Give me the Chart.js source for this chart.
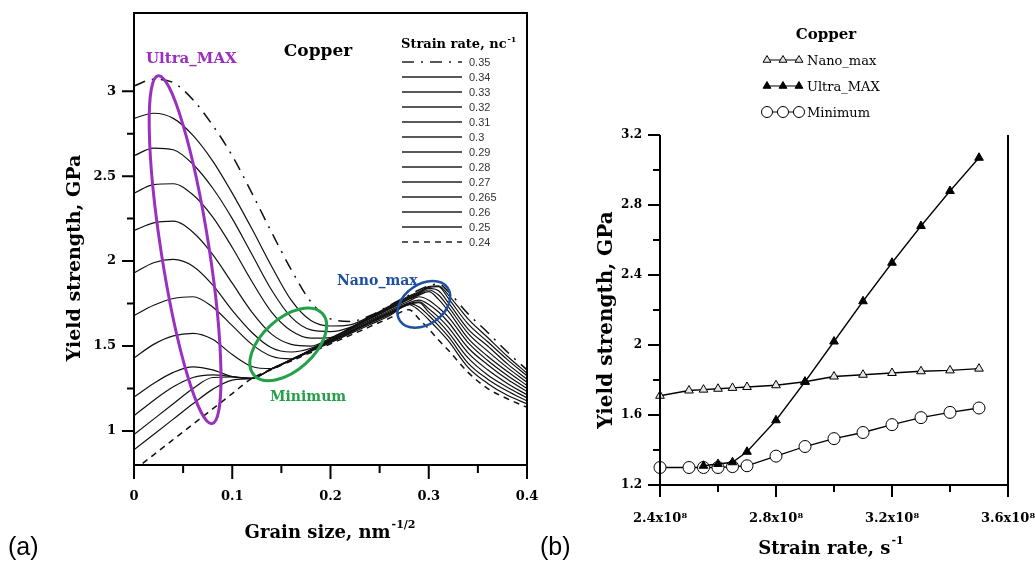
<!DOCTYPE html>
<html>
<head>
<meta charset="utf-8">
<script src="https://cdn.jsdelivr.net/npm/chart.js@4.4.0/dist/chart.umd.min.js"></script>
<style>
html, body { margin: 0; padding: 0; background: #fff; }
#wrap { position: relative; width: 1035px; height: 565px; overflow: hidden; }
#ca { position: absolute; left: 0; top: 0; }
#cb { position: absolute; left: 535px; top: 0; }
</style>
</head>
<body>
<div id="wrap">
  <canvas id="ca" width="540" height="565"></canvas>
  <canvas id="cb" width="500" height="565"></canvas>
</div>
<script>
// ---- panel (a): yield strength vs grain size, one curve per strain rate ----
const grainSize = [0, 0.02, 0.04, 0.06, 0.08, 0.10, 0.12, 0.14, 0.16, 0.18, 0.20, 0.22, 0.24, 0.26, 0.28, 0.29, 0.30, 0.31, 0.32, 0.34, 0.36, 0.38, 0.40];
const rateLabels = ['0.35', '0.34', '0.33', '0.32', '0.31', '0.3', '0.29', '0.28', '0.27', '0.265', '0.26', '0.25', '0.24'];
const sr035 = [3.03, 3.07, 3.05, 2.95, 2.80, 2.62, 2.40, 2.17, 1.95, 1.76, 1.66, 1.645, 1.678, 1.739, 1.80, 1.83, 1.855, 1.865, 1.82, 1.69, 1.58, 1.465, 1.36];
const sr034 = [2.84, 2.87, 2.84, 2.74, 2.59, 2.40, 2.19, 1.97, 1.77, 1.65, 1.618, 1.625, 1.674, 1.735, 1.795, 1.82, 1.85, 1.855, 1.80, 1.66, 1.55, 1.44, 1.34];
const sr033 = [2.62, 2.665, 2.655, 2.57, 2.43, 2.25, 2.04, 1.83, 1.67, 1.595, 1.585, 1.61, 1.67, 1.73, 1.79, 1.815, 1.845, 1.85, 1.78, 1.63, 1.525, 1.42, 1.325];
const sr032 = [2.40, 2.45, 2.455, 2.39, 2.26, 2.08, 1.88, 1.70, 1.59, 1.547, 1.55, 1.607, 1.667, 1.726, 1.785, 1.81, 1.84, 1.825, 1.755, 1.60, 1.50, 1.395, 1.305];
const sr031 = [2.18, 2.225, 2.235, 2.17, 2.04, 1.87, 1.70, 1.57, 1.51, 1.50, 1.547, 1.604, 1.663, 1.721, 1.78, 1.805, 1.83, 1.80, 1.73, 1.575, 1.47, 1.373, 1.287];
const sr030 = [1.93, 1.99, 2.01, 1.97, 1.86, 1.71, 1.58, 1.49, 1.465, 1.487, 1.543, 1.601, 1.659, 1.717, 1.775, 1.80, 1.82, 1.775, 1.705, 1.545, 1.44, 1.35, 1.268];
const sr029 = [1.68, 1.74, 1.78, 1.79, 1.73, 1.62, 1.51, 1.44, 1.425, 1.48, 1.538, 1.595, 1.651, 1.708, 1.765, 1.79, 1.77, 1.725, 1.67, 1.52, 1.415, 1.327, 1.25];
const sr028 = [1.43, 1.51, 1.56, 1.575, 1.54, 1.45, 1.38, 1.367, 1.422, 1.477, 1.533, 1.588, 1.644, 1.70, 1.755, 1.77, 1.745, 1.70, 1.64, 1.49, 1.39, 1.304, 1.232];
const sr027 = [1.20, 1.28, 1.345, 1.378, 1.36, 1.32, 1.31, 1.367, 1.421, 1.476, 1.53, 1.585, 1.64, 1.695, 1.75, 1.76, 1.72, 1.67, 1.61, 1.46, 1.36, 1.28, 1.213];
const sr0265 = [1.09, 1.18, 1.26, 1.315, 1.33, 1.32, 1.31, 1.366, 1.42, 1.474, 1.528, 1.582, 1.636, 1.691, 1.745, 1.755, 1.70, 1.645, 1.58, 1.43, 1.33, 1.258, 1.195];
const sr026 = [0.98, 1.07, 1.16, 1.25, 1.315, 1.318, 1.31, 1.366, 1.418, 1.472, 1.525, 1.579, 1.633, 1.686, 1.75, 1.73, 1.68, 1.62, 1.555, 1.40, 1.305, 1.235, 1.177];
const sr025 = [0.89, 0.98, 1.07, 1.16, 1.245, 1.30, 1.31, 1.364, 1.416, 1.468, 1.52, 1.573, 1.625, 1.678, 1.743, 1.71, 1.655, 1.595, 1.53, 1.375, 1.28, 1.21, 1.16];
const sr024 = [0.77, 0.86, 0.95, 1.04, 1.13, 1.22, 1.31, 1.362, 1.412, 1.462, 1.513, 1.563, 1.614, 1.664, 1.714, 1.66, 1.60, 1.535, 1.475, 1.345, 1.25, 1.19, 1.14];
const xTicksA = [0, 0.1, 0.2, 0.3, 0.4];
const xMinorA = [0.05, 0.15, 0.25, 0.35];
const yTicksA = [1, 1.5, 2, 2.5, 3];
const yMinorA = [1.25, 1.75, 2.25, 2.75];

// ---- panel (b): characteristic strengths vs strain rate ----
const strainRate = [2.4e8, 2.5e8, 2.55e8, 2.6e8, 2.65e8, 2.7e8, 2.8e8, 2.9e8, 3.0e8, 3.1e8, 3.2e8, 3.3e8, 3.4e8, 3.5e8];
const nanoMax = [1.71, 1.74, 1.745, 1.75, 1.755, 1.76, 1.77, 1.79, 1.82, 1.83, 1.84, 1.85, 1.855, 1.865];
const ultraMax = [null, null, 1.31, 1.32, 1.33, 1.39, 1.57, 1.79, 2.02, 2.25, 2.47, 2.68, 2.88, 3.07];
const minimum = [1.30, 1.30, 1.30, 1.30, 1.305, 1.31, 1.365, 1.42, 1.465, 1.50, 1.545, 1.585, 1.615, 1.64];
const xTicksB = [2.4e8, 2.8e8, 3.2e8, 3.6e8];
const xMinorB = [2.6e8, 3.0e8, 3.4e8];
const yTicksB = [1.2, 1.6, 2, 2.4, 2.8, 3.2];
const yMinorB = [1.4, 1.8, 2.2, 2.6, 3.0];

const SERIF = '"DejaVu Serif", serif';
const PURPLE = '#9a2fc0', GREEN = '#24a04a', BLUE = '#1f4fa0';

function supText(ctx, x, y, main, sup, size, align, color) {
  const ss = Math.round(size * 0.62);
  ctx.font = 'bold ' + size + 'px ' + SERIF;
  const w1 = ctx.measureText(main).width;
  ctx.font = 'bold ' + ss + 'px ' + SERIF;
  const w2 = sup ? ctx.measureText(sup).width + 1 : 0;
  const x0 = align === 'center' ? x - (w1 + w2) / 2 : x;
  ctx.fillStyle = color || '#000';
  ctx.textAlign = 'left';
  ctx.textBaseline = 'middle';
  ctx.font = 'bold ' + size + 'px ' + SERIF;
  ctx.fillText(main, x0, y);
  if (sup) {
    ctx.font = 'bold ' + ss + 'px ' + SERIF;
    ctx.fillText(sup, x0 + w1 + 1, y - size * 0.42);
  }
}

function tickMarks(ctx, scale, vals, len, horizontal, base) {
  vals.forEach(v => {
    const p = scale.getPixelForValue(v);
    if (horizontal) { ctx.moveTo(p, base); ctx.lineTo(p, base + len); }
    else { ctx.moveTo(base, p); ctx.lineTo(base - len, p); }
  });
}

function ring(ctx, cx, cy, a, b, rot, color, lw) {
  ctx.beginPath();
  ctx.ellipse(cx, cy, a, b, rot, 0, Math.PI * 2);
  ctx.strokeStyle = color;
  ctx.lineWidth = lw;
  ctx.stroke();
}

function marker(ctx, kind, x, y, r, fill) {
  ctx.beginPath();
  if (kind === 'circle') {
    ctx.arc(x, y, r, 0, Math.PI * 2);
  } else {
    for (let k = 0; k < 3; k++) {
      const ang = -Math.PI / 2 + k * 2 * Math.PI / 3;
      const px = x + Math.cos(ang) * r, py = y + Math.sin(ang) * r;
      k ? ctx.lineTo(px, py) : ctx.moveTo(px, py);
    }
    ctx.closePath();
  }
  ctx.fillStyle = fill;
  ctx.fill();
  ctx.lineWidth = 1;
  ctx.strokeStyle = '#000';
  ctx.stroke();
}

const panelA = {
  id: 'panelA',
  afterDatasetsDraw(chart) {
    const { ctx, scales: { x, y } } = chart;
    ctx.save();
    ring(ctx, x.getPixelForValue(0.052), y.getPixelForValue(2.067), 176, 24, 1.417, PURPLE, 3);
    ring(ctx, x.getPixelForValue(0.157), y.getPixelForValue(1.51), 46, 26, -0.733, GREEN, 3);
    ring(ctx, x.getPixelForValue(0.295), y.getPixelForValue(1.745), 29, 20, -0.61, BLUE, 2.5);
    ctx.restore();
  },
  afterDraw(chart) {
    const { ctx, chartArea: ca, scales: { x, y } } = chart;
    ctx.save();
    ctx.strokeStyle = '#000';
    ctx.lineWidth = 2;
    ctx.strokeRect(ca.left, ca.top, ca.right - ca.left, ca.bottom - ca.top);
    ctx.beginPath();
    tickMarks(ctx, x, xTicksA, 14, true, ca.bottom);
    tickMarks(ctx, x, xMinorA, 8, true, ca.bottom);
    tickMarks(ctx, y, yTicksA, 12, false, ca.left);
    tickMarks(ctx, y, yMinorA, 7, false, ca.left);
    ctx.stroke();

    // axis titles
    supText(ctx, 330, 533, 'Grain size, nm', '-1/2', 18, 'center');
    ctx.save();
    ctx.translate(75, 258);
    ctx.rotate(-Math.PI / 2);
    supText(ctx, 0, 0, 'Yield strength, GPa', '', 19, 'center');
    ctx.restore();

    // annotations
    supText(ctx, 318, 52, 'Copper', '', 17, 'center');
    supText(ctx, 146, 59, 'Ultra_MAX', '', 15, 'left', PURPLE);
    supText(ctx, 337, 281, 'Nano_max', '', 14, 'left', BLUE);
    supText(ctx, 270, 397, 'Minimum', '', 14, 'left', GREEN);

    // strain-rate legend
    supText(ctx, 401, 45, 'Strain rate, nc', '-1', 13, 'left');
    chart.data.datasets.forEach((ds, i) => {
      const ly = 62 + 15 * i;
      ctx.beginPath();
      ctx.setLineDash(ds.borderDash || []);
      ctx.lineWidth = 1.3;
      ctx.strokeStyle = '#222';
      ctx.moveTo(402, ly);
      ctx.lineTo(462, ly);
      ctx.stroke();
      ctx.setLineDash([]);
      ctx.fillStyle = '#333';
      ctx.font = '11px "Liberation Sans", Arial, sans-serif';
      ctx.textAlign = 'left';
      ctx.textBaseline = 'middle';
      ctx.fillText(ds.label, 469, ly + 0.5);
    });

    ctx.fillStyle = '#000';
    ctx.font = '25px "Liberation Sans", Arial, sans-serif';
    ctx.textAlign = 'left';
    ctx.textBaseline = 'middle';
    ctx.fillText('(a)', 8, 548);
    ctx.restore();
  }
};

const seriesA = [sr035, sr034, sr033, sr032, sr031, sr030, sr029, sr028, sr027, sr0265, sr026, sr025, sr024];

new Chart(document.getElementById('ca'), {
  type: 'line',
  data: {
    datasets: seriesA.map((arr, i) => ({
      label: rateLabels[i],
      data: grainSize.map((g, k) => ({ x: g, y: arr[k] })),
      borderColor: '#111',
      borderWidth: i === 0 || i === 12 ? 1.5 : 1.2,
      borderDash: i === 0 ? [12, 7, 2, 7] : (i === 12 ? [6, 5] : undefined),
      pointRadius: 0,
      cubicInterpolationMode: 'monotone',
      fill: false
    }))
  },
  options: {
    responsive: false,
    animation: false,
    events: [],
    layout: { padding: { left: 0, right: 13, top: 13, bottom: 0 } },
    plugins: { legend: { display: false }, tooltip: { enabled: false } },
    scales: {
      x: {
        type: 'linear', min: 0, max: 0.4,
        grid: { display: false, drawTicks: false },
        border: { display: false },
        afterBuildTicks: s => { s.ticks = xTicksA.map(v => ({ value: v })); },
        afterFit: s => { s.height = 100; s.paddingLeft = 0; s.paddingRight = 0; },
        ticks: { padding: 24, color: '#000', maxRotation: 0, autoSkip: false,
          font: { family: SERIF, size: 13, weight: 'bold' }, callback: v => String(v) }
      },
      y: {
        type: 'linear', min: 0.8, max: 3.46,
        grid: { display: false, drawTicks: false },
        border: { display: false },
        afterBuildTicks: s => { s.ticks = yTicksA.map(v => ({ value: v })); },
        afterFit: s => { s.width = 134; s.paddingTop = 0; s.paddingBottom = 0; },
        ticks: { padding: 18, color: '#000', autoSkip: false,
          font: { family: SERIF, size: 13, weight: 'bold' }, callback: v => String(v) }
      }
    }
  },
  plugins: [panelA]
});

// ---- panel (b) ----
const legendB = [
  { label: 'Nano_max', kind: 'triangle', fill: '#e6e6e6' },
  { label: 'Ultra_MAX', kind: 'triangle', fill: '#000' },
  { label: 'Minimum', kind: 'circle', fill: '#fff' }
];

const panelB = {
  id: 'panelB',
  afterDraw(chart) {
    const { ctx, chartArea: ca, scales: { x, y } } = chart;
    ctx.save();
    ctx.strokeStyle = '#000';
    ctx.lineWidth = 2;
    ctx.beginPath();
    ctx.moveTo(ca.left, ca.top);
    ctx.lineTo(ca.left, ca.bottom);
    ctx.lineTo(ca.right, ca.bottom);
    ctx.lineTo(ca.right, ca.top);
    tickMarks(ctx, x, xTicksB, 12, true, ca.bottom);
    tickMarks(ctx, x, xMinorB, 7, true, ca.bottom);
    tickMarks(ctx, y, yTicksB, 12, false, ca.left);
    tickMarks(ctx, y, yMinorB, 7, false, ca.left);
    ctx.stroke();

    supText(ctx, 296, 549, 'Strain rate, s', '-1', 18, 'center');
    ctx.save();
    ctx.translate(72, 320);
    ctx.rotate(-Math.PI / 2);
    supText(ctx, 0, 0, 'Yield strength, GPa', '', 20, 'center');
    ctx.restore();

    supText(ctx, 291, 35, 'Copper', '', 15, 'center');
    legendB.forEach((it, i) => {
      const ly = 60 + 26 * i;
      ctx.beginPath();
      ctx.strokeStyle = '#000';
      ctx.lineWidth = 1.2;
      ctx.moveTo(230, ly);
      ctx.lineTo(266, ly);
      ctx.stroke();
      [232, 248, 264].forEach(mx => marker(ctx, it.kind, mx, ly, it.kind === 'circle' ? 5.5 : 4.5, it.fill));
      ctx.fillStyle = '#000';
      ctx.font = '13px ' + SERIF;
      ctx.textAlign = 'left';
      ctx.textBaseline = 'middle';
      ctx.fillText(it.label, 272, ly + 2);
    });

    ctx.fillStyle = '#000';
    ctx.font = '25px "Liberation Sans", Arial, sans-serif';
    ctx.textAlign = 'left';
    ctx.textBaseline = 'middle';
    ctx.fillText('(b)', 5, 548);
    ctx.restore();
  }
};

function pts(vals) {
  return strainRate.map((r, k) => ({ x: r, y: vals[k] })).filter(p => p.y !== null);
}

new Chart(document.getElementById('cb'), {
  type: 'line',
  data: {
    datasets: [
      { label: 'Ultra_MAX', data: pts(ultraMax), order: 1, borderColor: '#000', borderWidth: 1.3,
        pointStyle: 'triangle', pointRadius: 5, pointBackgroundColor: '#000', pointBorderColor: '#000', pointBorderWidth: 1, tension: 0 },
      { label: 'Nano_max', data: pts(nanoMax), order: 2, borderColor: '#000', borderWidth: 1.3,
        pointStyle: 'triangle', pointRadius: 5, pointBackgroundColor: '#e6e6e6', pointBorderColor: '#000', pointBorderWidth: 1, tension: 0 },
      { label: 'Minimum', data: pts(minimum), order: 3, borderColor: '#000', borderWidth: 1.3,
        pointStyle: 'circle', pointRadius: 6, pointBackgroundColor: '#fff', pointBorderColor: '#000', pointBorderWidth: 1, tension: 0 }
    ]
  },
  options: {
    responsive: false,
    animation: false,
    events: [],
    clip: false,
    layout: { padding: { left: 0, right: 27, top: 135, bottom: 0 } },
    plugins: { legend: { display: false }, tooltip: { enabled: false } },
    scales: {
      x: {
        type: 'linear', min: 2.4e8, max: 3.6e8,
        grid: { display: false, drawTicks: false },
        border: { display: false },
        afterBuildTicks: s => { s.ticks = xTicksB.map(v => ({ value: v })); },
        afterFit: s => { s.height = 80; s.paddingLeft = 0; s.paddingRight = 0; },
        ticks: { padding: 26, color: '#000', maxRotation: 0, autoSkip: false,
          font: { family: SERIF, size: 13, weight: 'bold' },
          callback: v => (v / 1e8).toFixed(1) + 'x10\u2078' }
      },
      y: {
        type: 'linear', min: 1.2, max: 3.2,
        grid: { display: false, drawTicks: false },
        border: { display: false },
        afterBuildTicks: s => { s.ticks = yTicksB.map(v => ({ value: v })); },
        afterFit: s => { s.width = 125; s.paddingTop = 0; s.paddingBottom = 0; },
        ticks: { padding: 18, color: '#000', autoSkip: false,
          font: { family: SERIF, size: 12, weight: 'bold' }, callback: v => String(v) }
      }
    }
  },
  plugins: [panelB]
});
</script>
</body>
</html>
